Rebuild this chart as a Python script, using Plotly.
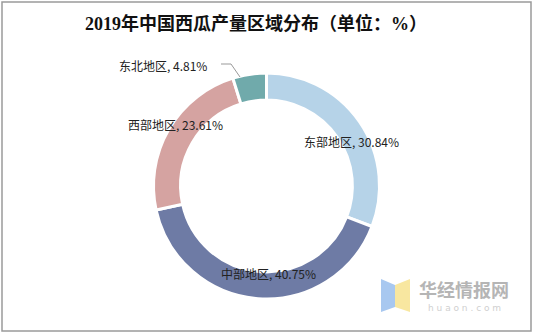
import plotly.graph_objects as go

regions = ["东部地区", "中部地区", "西部地区", "东北地区"]
shares = [30.84, 40.75, 23.61, 4.81]
colors = ["#B6D3E8", "#6E7BA5", "#D5A3A1", "#70AAAB"]
title_text = "2019年中国西瓜产量区域分布（单位：%）"

W, H = 534, 335

fig = go.Figure()
fig.add_trace(go.Pie(
    labels=regions,
    values=shares,
    hole=0.76,
    sort=False,
    direction="clockwise",
    rotation=0,
    marker=dict(colors=colors, line=dict(color="white", width=3)),
    textinfo="none",
    showlegend=False,
    domain=dict(x=[153 / W, 380 / W], y=[1 - 299 / H, 1 - 73 / H]),
))

# label positions (pixels) for each region
label_pos = {
    "东部地区": (352, 142),
    "中部地区": (268, 273),
    "西部地区": (175, 124),
    "东北地区": (163, 65),
}
ann = []
for r, v in zip(regions, shares):
    x, y = label_pos[r]
    ann.append(dict(x=x / W, y=1 - y / H, xref="paper", yref="paper",
                    xanchor="center", yanchor="middle",
                    text=f"{r}, {v:.2f}%", showarrow=False,
                    font=dict(family="Noto Sans CJK SC", size=12, color="#222222")))

ann.append(dict(x=256 / W, y=1 - 23 / H, xref="paper", yref="paper",
                xanchor="center", yanchor="middle",
                text=f"<b>{title_text}</b>", showarrow=False,
                font=dict(family="Liberation Serif, Noto Sans CJK SC", size=18, color="#111111")))
# watermark
ann.append(dict(x=464 / W, y=1 - 289 / H, xref="paper", yref="paper",
                xanchor="center", yanchor="middle",
                text="<b>华经情报网</b>", showarrow=False,
                font=dict(family="Noto Sans CJK SC", size=18, color="#B5B5B5")))
ann.append(dict(x=464 / W, y=1 - 308 / H, xref="paper", yref="paper",
                xanchor="center", yanchor="middle",
                text="h u a o n . c o m", showarrow=False,
                font=dict(family="DejaVu Sans", size=9, color="#D0D0D0")))

shapes = [
    dict(type="rect", xref="paper", yref="paper", x0=2 / W, x1=531 / W,
         y0=1 - 331 / H, y1=1 - 2 / H, line=dict(color="#9A9A9A", width=1.5)),
    # leader line for 东北地区
    dict(type="path", xref="paper", yref="paper",
         path=f"M {221/W} {1-64/H} L {231/W} {1-64/H} L {240/W} {1-77/H}",
         line=dict(color="#999999", width=1)),
    # watermark logo
    dict(type="path", xref="paper", yref="paper",
         path=f"M {381/W} {1-279/H} L {395/W} {1-285/H} L {395/W} {1-307/H} L {381/W} {1-312/H} Z",
         fillcolor="#A8C8F0", line=dict(width=0)),
    dict(type="path", xref="paper", yref="paper",
         path=f"M {395/W} {1-285/H} L {410/W} {1-279/H} L {410/W} {1-312/H} L {395/W} {1-307/H} Z",
         fillcolor="#F8E7A0", line=dict(width=0)),
]

fig.update_layout(
    width=W, height=H,
    margin=dict(l=0, r=0, t=0, b=0),
    paper_bgcolor="white", plot_bgcolor="white",
    annotations=ann, shapes=shapes,
)
fig.write_html("out.html")
